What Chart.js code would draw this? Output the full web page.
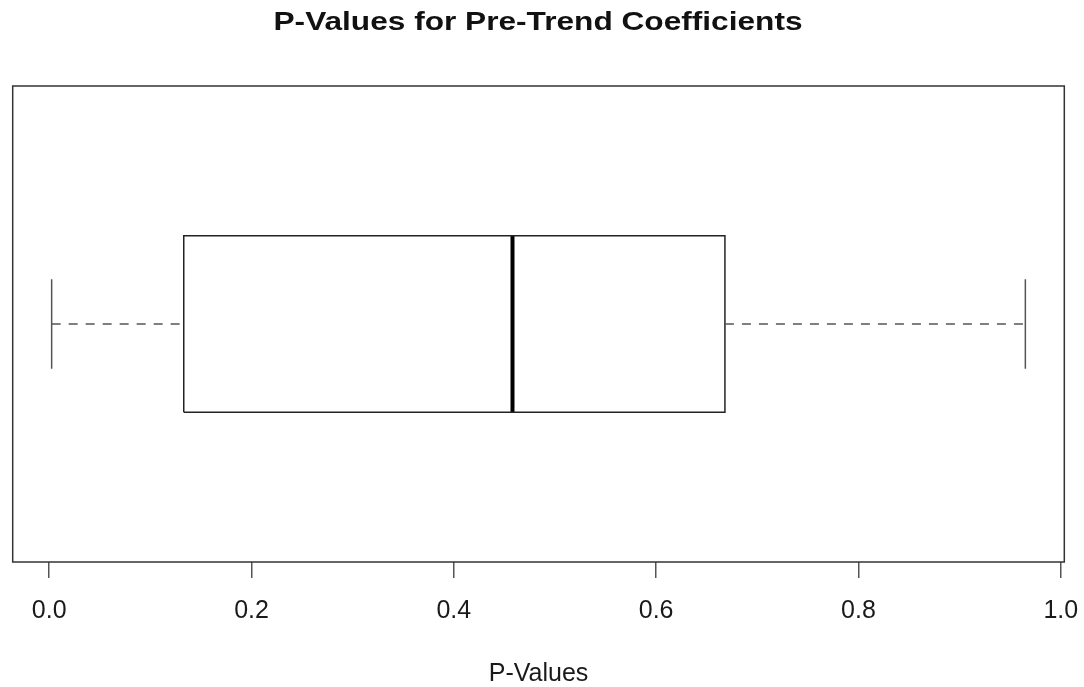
<!DOCTYPE html>
<html>
<head>
<meta charset="utf-8">
<title>P-Values for Pre-Trend Coefficients</title>
<script src="https://cdn.jsdelivr.net/npm/chart.js@4.4.1/dist/chart.umd.min.js"></script>
<style>
  html, body { margin: 0; padding: 0; background: #fff; }
  #wrap { width: 1084px; height: 687px; position: relative; }
</style>
</head>
<body>
<div id="wrap"><canvas id="boxChart"></canvas></div>
<script>
// Data
const categories = ["P-Values"];
const statNames = ["min", "q1", "median", "q3", "max"];
const pValueStats = [0.0024, 0.133, 0.458, 0.668, 0.965];
const xTicks = [0.0, 0.2, 0.4, 0.6, 0.8, 1.0];

const titleText = "P-Values for Pre-Trend Coefficients";
const stat = Object.fromEntries(statNames.map((n, i) => [n, pValueStats[i]]));

// box geometry on a hidden 0..1 y scale
const mid = 0.5, boxHalf = 0.1855, capHalf = 0.094;
// R style 4% range extension
const ext = 0.04 * (stat.max - stat.min);

const FONT = '"Liberation Sans", Arial, Helvetica, sans-serif';
const lineDs = (points, extra) => Object.assign({
  data: points,
  showLine: true,
  pointRadius: 0,
  pointHoverRadius: 0,
  fill: false,
  borderColor: "#222",
  borderWidth: 1.5,
}, extra);

// frame round the plot region + (wide) bold title
const framePlugin = {
  id: "frame",
  afterDraw(chart) {
    const { ctx, chartArea: a } = chart;
    ctx.save();
    ctx.strokeStyle = "#333";
    ctx.lineWidth = 1.5;
    ctx.strokeRect(a.left, a.top, a.right - a.left, a.bottom - a.top);
    ctx.fillStyle = "#111";
    ctx.font = "bold 25px " + FONT;
    ctx.textAlign = "center";
    ctx.textBaseline = "alphabetic";
    const sx = 529 / ctx.measureText(titleText).width;
    ctx.translate(538, 30);
    ctx.scale(sx, 1);
    ctx.fillText(titleText, 0, 0);
    ctx.restore();
  },
};

new Chart(document.getElementById("boxChart"), {
  type: "scatter",
  data: {
    labels: categories,
    datasets: [
      lineDs([{ x: stat.min, y: mid }, { x: stat.q1, y: mid }], { borderColor: "#555", borderDash: [9, 8] }),
      lineDs([{ x: stat.q3, y: mid }, { x: stat.max, y: mid }], { borderColor: "#555", borderDash: [9, 8] }),
      lineDs([{ x: stat.min, y: mid - capHalf }, { x: stat.min, y: mid + capHalf }], { borderColor: "#555" }),
      lineDs([{ x: stat.max, y: mid - capHalf }, { x: stat.max, y: mid + capHalf }], { borderColor: "#555" }),
      lineDs([
        { x: stat.q1, y: mid - boxHalf },
        { x: stat.q3, y: mid - boxHalf },
        { x: stat.q3, y: mid + boxHalf },
        { x: stat.q1, y: mid + boxHalf },
        { x: stat.q1, y: mid - boxHalf },
      ]),
      lineDs([{ x: stat.median, y: mid - boxHalf }, { x: stat.median, y: mid + boxHalf }], { borderColor: "#000", borderWidth: 4 }),
    ],
  },
  options: {
    responsive: true,
    maintainAspectRatio: false,
    animation: false,
    layout: { padding: { top: 86, left: 12.7, right: 19.7, bottom: 0 } },
    plugins: {
      legend: { display: false },
      tooltip: { enabled: false },
      title: { display: false },
    },
    scales: {
      x: {
        type: "linear",
        min: stat.min - ext,
        max: stat.max + ext,
        afterBuildTicks: (scale) => { scale.ticks = xTicks.map((v) => ({ value: v })); },
        // labels fit inside the layout padding, don't let them push the plot in
        afterFit: (scale) => { scale.paddingLeft = 0; scale.paddingRight = 0; },
        border: { display: false },
        grid: { display: true, drawOnChartArea: false, drawTicks: true, tickLength: 16, color: "#555", lineWidth: 1.5 },
        ticks: {
          color: "#1a1a1a",
          padding: 21,
          maxRotation: 0,
          font: { family: FONT, size: 25, lineHeight: 1 },
          callback: (v) => Number(v).toFixed(1),
        },
        title: {
          display: true,
          text: "P-Values",
          color: "#1a1a1a",
          font: { family: FONT, size: 25, lineHeight: 1 },
          padding: { top: 17, bottom: 0 },
        },
      },
      y: { type: "linear", min: 0, max: 1, display: false },
    },
  },
  plugins: [framePlugin],
});
</script>
</body>
</html>
